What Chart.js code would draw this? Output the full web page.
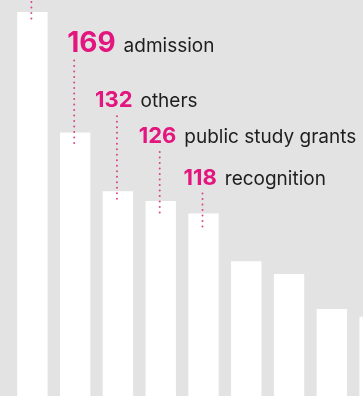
<!DOCTYPE html>
<html>
<head>
<meta charset="utf-8">
<script src="https://cdn.jsdelivr.net/npm/chart.js@4"></script>
<style>
  html, body { margin: 0; padding: 0; overflow: hidden; background: #e3e3e3; }
  #wrap { position: absolute; left: 0; top: 0; }
</style>
</head>
<body>
<div id="wrap"><canvas id="chart" width="396" height="401"></canvas></div>
<script>
// Categories (only the labelled ones are known) and their counts
const categories = ["", "admission", "others", "public study grants", "recognition", "", "", "", ""];
const counts = [245, 169, 132, 126, 118, 88, 80, 58, 53];

const PINK = '#e3167f';

// Draws the number + category label above bars, with a dotted leader down into the bar
const calloutPlugin = {
    id: 'callouts',
    afterDatasetsDraw(chart, args, opts) {
        const ctx = chart.ctx;
        const bars = chart.getDatasetMeta(0).data;
        opts.items.forEach(item => {
            const bar = bars[item.index];
            const baseline = bar.y - item.rise;

            // dotted leader
            ctx.save();
            ctx.fillStyle = 'rgba(214, 40, 125, 0.85)';
            for (let y = baseline + 9; y < bar.y + item.sink; y += 5.5) {
                ctx.beginPath();
                ctx.arc(bar.x - 1, y, 1, 0, Math.PI * 2);
                ctx.fill();
            }
            ctx.restore();

            if (!categories[item.index]) return;

            ctx.save();
            ctx.textBaseline = 'alphabetic';
            ctx.textAlign = 'left';
            ctx.fillStyle = PINK;
            ctx.font = '700 ' + item.size + 'px Inter';
            const num = String(counts[item.index]);
            const x = bar.x + item.dx;
            ctx.fillText(num, x, baseline);
            const w = ctx.measureText(num).width;
            ctx.fillStyle = '#1e1e1e';
            ctx.font = '400 19px Inter';
            ctx.fillText(categories[item.index], x + w + 8, baseline);
            ctx.restore();
        });
    }
};

new Chart(document.getElementById('chart'), {
    type: 'bar',
    data: {
        labels: categories,
        datasets: [{
            data: counts,
            backgroundColor: '#ffffff',
            borderWidth: 0,
            barPercentage: 0.71,
            categoryPercentage: 1.0,
        }],
    },
    options: {
        responsive: false,
        animation: false,
        layout: { padding: { left: 11, right: 0, top: 0, bottom: 0 } },
        scales: {
            x: { display: false },
            y: { display: false, min: 0, max: 252.5 },
        },
        plugins: {
            legend: { display: false },
            tooltip: { enabled: false },
            callouts: {
                items: [
                    { index: 0, rise: 30, dx: 0, size: 28, sink: 9 },
                    { index: 1, rise: 81, dx: -8, size: 28, sink: 11 },
                    { index: 2, rise: 84, dx: -23, size: 22, sink: 13 },
                    { index: 3, rise: 58, dx: -22, size: 22, sink: 12 },
                    { index: 4, rise: 29, dx: -20, size: 22, sink: 16 },
                ],
            },
        },
    },
    plugins: [calloutPlugin],
});
</script>
</body>
</html>
